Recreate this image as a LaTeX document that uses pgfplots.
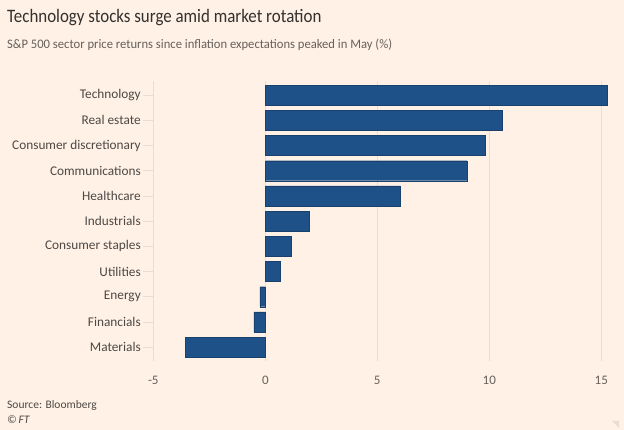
\documentclass[border=0pt]{standalone}
\usepackage{pgfplots}
\pgfplotsset{compat=1.18}
\usepackage{fontspec}
\setmainfont{Carlito}
\definecolor{ftbg}{HTML}{FFF1E5}
\definecolor{ftbar}{HTML}{1F5189}
\definecolor{fttext}{HTML}{33302E}
\definecolor{ftlab}{HTML}{4D4845}
\definecolor{ftgrey}{HTML}{66605C}
\definecolor{ftgrid}{HTML}{E9DED5}
\begin{document}
\begin{tikzpicture}[x=1pt,y=1pt]
\fill[ftbg] (0,0) rectangle (624,430);
\useasboundingbox (0,0) rectangle (624,430);
\node[anchor=base west, inner sep=0, text=fttext] at (7,407) {\scalebox{0.89}[1]{\fontsize{19}{22}\selectfont Technology stocks surge amid market rotation}};
\node[anchor=base west, inner sep=0, text=ftgrey] at (7,381) {\scalebox{0.97}[1]{\fontsize{13}{15}\selectfont S\&P 500 sector price returns since inflation expectations peaked in May (\%)}};
\node[anchor=base west, inner sep=0, text=ftlab, font=\fontsize{11.5}{14}\selectfont] at (7,21) {Source: Bloomberg};
\node[anchor=base west, inner sep=0, text=ftlab, font=\fontsize{11.5}{14}\selectfont\itshape] at (7,6) {\textcopyright\,FT};
\begin{axis}[
  at={(153.3pt,69pt)}, anchor=south west, scale only axis,
  width=454.7pt, height=279.7pt,
  xmin=-5, xmax=15.3, ymin=-0.55, ymax=10.55,
  xbar, bar width=20pt, bar shift=0pt,
  axis lines*=left,
  x axis line style={draw=none},
  y axis line style={draw=ftgrid, line width=0.8pt},
  xtick={-5,0,5,10,15},
  ytick={0,...,10},
  yticklabels={Materials,Financials,Energy,Utilities,Consumer staples,Industrials,Healthcare,Communications,Consumer discretionary,Real estate,Technology},
  major x tick style={draw=none},
  major y tick style={draw=ftgrid, line width=0.8pt},
  tick align=outside, major tick length=10pt,
  ytick pos=left,
  xmajorgrids, major x grid style={draw=ftgrid, line width=0.6pt},
  x tick label style={text=ftgrey, font=\fontsize{13}{15}\selectfont, yshift=-2pt},
  y tick label style={text=ftlab, font=\fontsize{13.3}{15}\selectfont, xshift=1pt},
  /pgf/number format/assume math mode=true,
  clip=false,
]
\addplot[fill=ftbar, draw=ftbar!80!black, line width=0.3pt] coordinates {
(-3.57,0) (-0.51,1) (-0.24,2) (0.65,3) (1.14,4) (1.98,5) (6.04,6) (9.0,7) (9.83,8) (10.58,9) (15.27,10)
};
\end{axis}
\fill[ftgrid] (619,2) -- (619,9) -- (612,9) -- cycle;
\end{tikzpicture}
\end{document}
